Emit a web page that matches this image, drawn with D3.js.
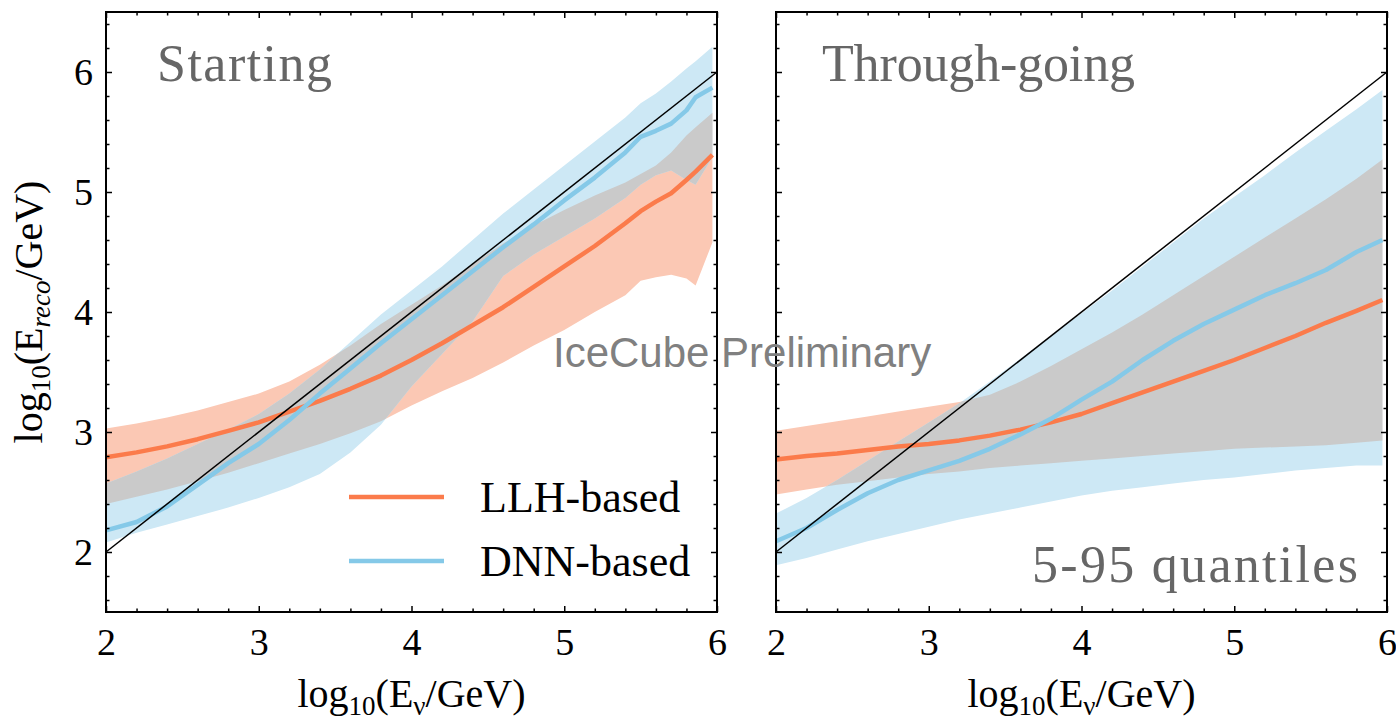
<!DOCTYPE html>
<html>
<head>
<meta charset="utf-8">
<script src="https://cdn.jsdelivr.net/npm/d3@7"></script>
<style>
  body { margin: 0; background: #fff; }
  svg { display: block; }
</style>
</head>
<body>
<svg id="chart" width="1396" height="725"></svg>
<script>
// ---- Starting events: log10(E_true) grid and 5 / 50 / 95 % quantiles of log10(E_reco)
const startE       = [2.0, 2.2, 2.4, 2.6, 2.8, 3.0, 3.2, 3.4, 3.6, 3.8, 4.0, 4.2, 4.4, 4.6, 4.8, 5.0, 5.2, 5.4, 5.5, 5.6, 5.7, 5.8, 5.86, 5.97];
const startLlhMed  = [2.79, 2.83, 2.88, 2.94, 3.01, 3.08, 3.17, 3.26, 3.36, 3.47, 3.60, 3.74, 3.89, 4.04, 4.21, 4.38, 4.55, 4.74, 4.84, 4.92, 4.99, 5.10, 5.17, 5.31];
const startLlhLo   = [2.40, 2.46, 2.52, 2.59, 2.66, 2.74, 2.82, 2.90, 2.99, 3.09, 3.22, 3.34, 3.45, 3.58, 3.72, 3.85, 4.00, 4.14, 4.26, 4.29, 4.31, 4.28, 4.22, 4.58];
const startLlhHi   = [3.03, 3.07, 3.12, 3.18, 3.25, 3.32, 3.42, 3.56, 3.72, 3.90, 4.06, 4.22, 4.40, 4.57, 4.72, 4.85, 4.97, 5.08, 5.15, 5.22, 5.33, 5.47, 5.54, 5.66];
const startDnnMed  = [2.18, 2.25, 2.38, 2.56, 2.74, 2.90, 3.10, 3.32, 3.53, 3.74, 3.94, 4.14, 4.34, 4.54, 4.73, 4.93, 5.12, 5.33, 5.46, 5.51, 5.57, 5.68, 5.79, 5.87];
const startDnnLo   = [2.08, 2.16, 2.23, 2.30, 2.37, 2.45, 2.54, 2.65, 2.83, 3.06, 3.38, 3.65, 3.92, 4.30, 4.48, 4.63, 4.78, 4.95, 5.06, 5.14, 5.18, 5.10, 5.06, 5.29];
const startDnnHi   = [2.57, 2.67, 2.78, 2.90, 3.02, 3.15, 3.32, 3.52, 3.75, 3.98, 4.18, 4.38, 4.60, 4.82, 5.02, 5.22, 5.42, 5.62, 5.74, 5.82, 5.92, 6.03, 6.09, 6.21];

// ---- Through-going events
const thruE        = [2.0, 2.2, 2.4, 2.6, 2.8, 3.0, 3.2, 3.4, 3.6, 3.8, 4.0, 4.2, 4.4, 4.6, 4.8, 5.0, 5.2, 5.4, 5.6, 5.8, 5.97];
const thruLlhMed   = [2.77, 2.80, 2.82, 2.85, 2.88, 2.90, 2.93, 2.97, 3.02, 3.08, 3.15, 3.24, 3.33, 3.42, 3.51, 3.60, 3.70, 3.80, 3.91, 4.01, 4.10];
const thruLlhLo    = [2.48, 2.52, 2.56, 2.59, 2.62, 2.65, 2.67, 2.70, 2.72, 2.74, 2.76, 2.78, 2.80, 2.82, 2.84, 2.86, 2.87, 2.88, 2.89, 2.91, 2.93];
const thruLlhHi    = [3.01, 3.05, 3.09, 3.13, 3.17, 3.21, 3.25, 3.31, 3.42, 3.55, 3.69, 3.83, 3.98, 4.14, 4.30, 4.46, 4.62, 4.78, 4.94, 5.11, 5.27];
const thruDnnMed   = [2.09, 2.20, 2.35, 2.49, 2.60, 2.68, 2.76, 2.86, 2.98, 3.11, 3.27, 3.42, 3.60, 3.76, 3.90, 4.02, 4.14, 4.24, 4.35, 4.50, 4.60];
const thruDnnLo    = [1.89, 1.95, 2.02, 2.09, 2.15, 2.21, 2.27, 2.32, 2.37, 2.42, 2.47, 2.51, 2.54, 2.57, 2.60, 2.62, 2.65, 2.68, 2.70, 2.72, 2.72];
const thruDnnHi    = [2.32, 2.45, 2.60, 2.76, 2.92, 3.08, 3.24, 3.42, 3.61, 3.80, 3.99, 4.18, 4.38, 4.58, 4.78, 4.96, 5.14, 5.33, 5.51, 5.69, 5.85];

// ---- Axis ticks and labels
const majorTicks = [2, 3, 4, 5, 6];
const panelTitles = ["Starting", "Through-going"];
const legendLabels = ["LLH-based", "DNN-based"];
const noteLabel = "5-95 quantiles";
const watermark = "IceCube Preliminary";

// ---- Styling
const C = {
  llhLine: "#fb7b4b",
  llhBand: "#fbc8b4",
  dnnLine: "#85c9e8",
  dnnBand: "#cde8f5",
  overlap: "#cacaca",
  title: "#666666",
  mark: "#808080"
};
const SERIF = "'Liberation Serif', 'Times New Roman', serif";
const SANS = "'Liberation Sans', Arial, sans-serif";

const svg = d3.select("#chart");
const plotTop = 12, plotBottom = 612, plotW = 611;
const y = d3.scaleLinear().domain([1.5, 6.5]).range([plotBottom, plotTop]);

const minorX = d3.range(2, 6.0001, 0.2).filter(v => Math.abs(v - Math.round(v)) > 1e-6);
const minorY = d3.range(1.6, 6.5, 0.2).filter(v => Math.abs(v - Math.round(v)) > 1e-6);

const panels = [
  { left: 106, title: panelTitles[0], titleX: 157, titleLen: 175, yLabels: true, legend: true,
    e: startE, lMed: startLlhMed, lLo: startLlhLo, lHi: startLlhHi,
    dMed: startDnnMed, dLo: startDnnLo, dHi: startDnnHi },
  { left: 776, title: panelTitles[1], titleX: 822, titleLen: 313, yLabels: false, legend: false,
    e: thruE, lMed: thruLlhMed, lLo: thruLlhLo, lHi: thruLlhHi,
    dMed: thruDnnMed, dLo: thruDnnLo, dHi: thruDnnHi }
];

// log10(E_x/GeV) with subscripts, built as tspans
function axisTitle(sel, sub, italicSub) {
  sel.append("tspan").text("log");
  sel.append("tspan").attr("dy", 8).style("font-size", "27px").text("10");
  sel.append("tspan").attr("dy", -8).text("(E");
  const s = sel.append("tspan").attr("dy", 8).style("font-size", "27px").text(sub);
  if (italicSub) s.style("font-style", "italic");
  sel.append("tspan").attr("dy", -8).text("/GeV)");
}

panels.forEach((p, pi) => {
  const x = d3.scaleLinear().domain([2, 6]).range([p.left, p.left + plotW]);
  const rows = p.e.map((e, i) => ({
    e, lMed: p.lMed[i], lLo: p.lLo[i], lHi: p.lHi[i],
    dMed: p.dMed[i], dLo: p.dLo[i], dHi: p.dHi[i]
  }));
  const g = svg.append("g");

  const band = (lo, hi) => d3.area().x(d => x(d.e)).y0(d => y(d[lo])).y1(d => y(d[hi]));
  const line = key => d3.line().x(d => x(d.e)).y(d => y(d[key]));

  // quantile bands
  g.append("path").datum(rows).attr("d", band("lLo", "lHi")).attr("fill", C.llhBand);
  g.append("path").datum(rows).attr("d", band("dLo", "dHi")).attr("fill", C.dnnBand);

  // region where both bands overlap, drawn grey
  const clipId = "llh-band-" + pi;
  svg.append("clipPath").attr("id", clipId)
    .append("path").datum(rows).attr("d", band("lLo", "lHi"));
  g.append("path").datum(rows).attr("d", band("dLo", "dHi"))
    .attr("fill", C.overlap).attr("clip-path", `url(#${clipId})`);

  // medians
  g.append("path").datum(rows).attr("d", line("lMed"))
    .attr("fill", "none").attr("stroke", C.llhLine).attr("stroke-width", 4.5).attr("stroke-linejoin", "round");
  g.append("path").datum(rows).attr("d", line("dMed"))
    .attr("fill", "none").attr("stroke", C.dnnLine).attr("stroke-width", 4.5).attr("stroke-linejoin", "round");

  // E_reco = E_true diagonal
  g.append("line")
    .attr("x1", x(2)).attr("y1", y(2)).attr("x2", x(6)).attr("y2", y(6))
    .attr("stroke", "#000").attr("stroke-width", 1.5);

  // ticks on all four sides, pointing inwards
  const tickStyle = sel => {
    sel.select(".domain").remove();
    sel.selectAll(".tick line").attr("stroke", "#000").attr("stroke-width", 1.5);
    sel.selectAll("text").style("font-family", SERIF).style("font-size", "38px").attr("fill", "#000");
  };
  g.append("g").attr("transform", `translate(0,${plotBottom})`)
    .call(d3.axisBottom(x).tickValues(majorTicks).tickSize(-6).tickSizeOuter(0).tickPadding(16).tickFormat(d3.format("d")))
    .call(tickStyle);
  g.append("g").attr("transform", `translate(0,${plotBottom})`)
    .call(d3.axisBottom(x).tickValues(minorX).tickSize(-3.5).tickSizeOuter(0).tickFormat(""))
    .call(tickStyle);
  g.append("g").attr("transform", `translate(0,${plotTop})`)
    .call(d3.axisTop(x).tickValues(majorTicks).tickSize(-6).tickSizeOuter(0).tickFormat(""))
    .call(tickStyle);
  g.append("g").attr("transform", `translate(0,${plotTop})`)
    .call(d3.axisTop(x).tickValues(minorX).tickSize(-3.5).tickSizeOuter(0).tickFormat(""))
    .call(tickStyle);
  g.append("g").attr("transform", `translate(${p.left},0)`)
    .call(d3.axisLeft(y).tickValues(majorTicks).tickSize(-6).tickSizeOuter(0).tickPadding(13)
      .tickFormat(p.yLabels ? d3.format("d") : ""))
    .call(tickStyle);
  g.append("g").attr("transform", `translate(${p.left},0)`)
    .call(d3.axisLeft(y).tickValues(minorY).tickSize(-3.5).tickSizeOuter(0).tickFormat(""))
    .call(tickStyle);
  g.append("g").attr("transform", `translate(${p.left + plotW},0)`)
    .call(d3.axisRight(y).tickValues(majorTicks).tickSize(-6).tickSizeOuter(0).tickFormat(""))
    .call(tickStyle);
  g.append("g").attr("transform", `translate(${p.left + plotW},0)`)
    .call(d3.axisRight(y).tickValues(minorY).tickSize(-3.5).tickSizeOuter(0).tickFormat(""))
    .call(tickStyle);

  // frame
  g.append("rect")
    .attr("x", p.left).attr("y", plotTop).attr("width", plotW).attr("height", plotBottom - plotTop)
    .attr("fill", "none").attr("stroke", "#000").attr("stroke-width", 2);

  // panel title
  g.append("text")
    .attr("x", p.titleX).attr("y", 81)
    .attr("textLength", p.titleLen).attr("lengthAdjust", "spacing")
    .style("font-family", SERIF).style("font-size", "52px").attr("fill", C.title)
    .text(p.title);

  // x-axis title
  g.append("text")
    .attr("x", x(4)).attr("y", 707).attr("text-anchor", "middle")
    .style("font-family", SERIF).style("font-size", "40px").attr("fill", "#000")
    .call(axisTitle, "ν", false);

  if (p.yLabels) {
    g.append("text")
      .attr("transform", `translate(42,${(plotTop + plotBottom) / 2}) rotate(-90)`)
      .attr("text-anchor", "middle")
      .style("font-family", SERIF).style("font-size", "40px").attr("fill", "#000")
      .call(axisTitle, "reco", true);
  }

  if (p.legend) {
    const items = [
      { label: legendLabels[0], color: C.llhLine, y: 497 },
      { label: legendLabels[1], color: C.dnnLine, y: 561 }
    ];
    items.forEach(it => {
      g.append("line").attr("x1", 349).attr("x2", 444).attr("y1", it.y).attr("y2", it.y)
        .attr("stroke", it.color).attr("stroke-width", 4.5);
      g.append("text").attr("x", 480).attr("y", it.y + 15)
        .style("font-family", SERIF).style("font-size", "44px").attr("fill", "#000")
        .text(it.label);
    });
  } else {
    g.append("text")
      .attr("x", 1032).attr("y", 582)
      .attr("textLength", 326).attr("lengthAdjust", "spacing")
      .style("font-family", SERIF).style("font-size", "52px").attr("fill", C.title)
      .text(noteLabel);
  }
});

// watermark across both panels
svg.append("text")
  .attr("x", 553).attr("y", 367)
  .style("font-family", SANS).style("font-size", "42px").attr("fill", C.mark)
  .text(watermark);
</script>
</body>
</html>
